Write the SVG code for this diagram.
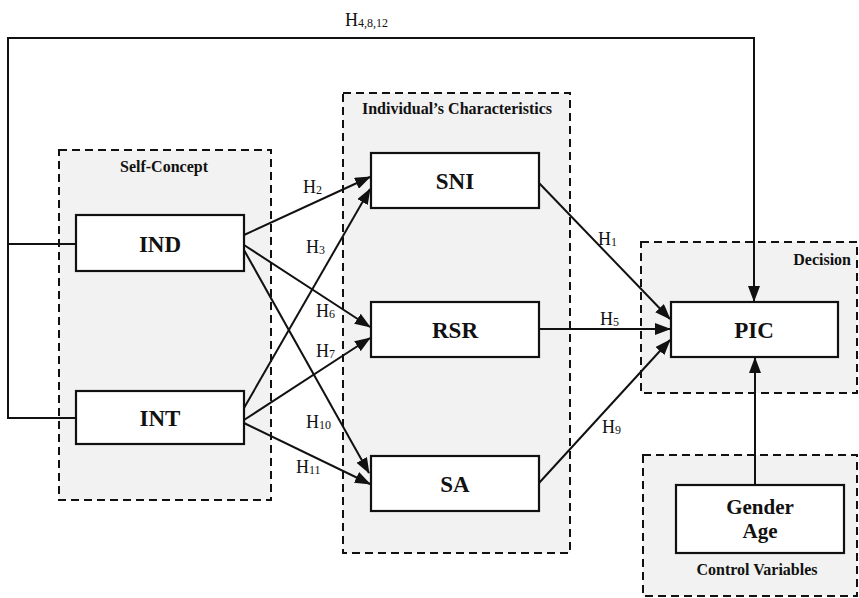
<svg xmlns="http://www.w3.org/2000/svg" width="859" height="598" viewBox="0 0 859 598">
<defs>
<marker id="ah" markerUnits="userSpaceOnUse" markerWidth="16" markerHeight="12" refX="15" refY="6" orient="auto">
<path d="M0,0 L16,6 L0,12 Z" fill="#111"/>
</marker>
</defs>
<style>
.grp{fill:#f2f2f2;stroke:#111;stroke-width:2;stroke-dasharray:8,5}
.node{fill:#fff;stroke:#111;stroke-width:2.2}
.lbl{font-family:"Liberation Serif","Times New Roman",serif;font-weight:bold;font-size:23px;fill:#111;text-anchor:middle}
.lbl2{font-family:"Liberation Serif","Times New Roman",serif;font-weight:bold;font-size:21px;fill:#111;text-anchor:middle}
.gt{font-family:"Liberation Serif","Times New Roman",serif;font-weight:bold;font-size:16px;fill:#111}
.h{font-family:"Liberation Serif","Times New Roman",serif;font-size:18px;fill:#111}
.sub{font-size:12px}
.ln{fill:none;stroke:#111;stroke-width:2}
.arr{fill:none;stroke:#111;stroke-width:2;marker-end:url(#ah)}
</style>
<rect width="859" height="598" fill="#fff"/>
<g id="self-concept">
<rect class="grp" x="59" y="150" width="212" height="350"/>
<text class="gt" x="164" y="172" text-anchor="middle">Self-Concept</text>
</g>
<g id="individuals-characteristics">
<rect class="grp" x="343" y="93" width="227" height="460"/>
<text class="gt" x="457" y="114" text-anchor="middle">Individual’s Characteristics</text>
</g>
<g id="decision">
<rect class="grp" x="641" y="242" width="216" height="151"/>
<text class="gt" x="851" y="265" text-anchor="end">Decision</text>
</g>
<g id="control-variables">
<rect class="grp" x="643" y="455" width="214" height="141"/>
<text class="gt" x="757" y="575" text-anchor="middle">Control Variables</text>
</g>
<g id="connectors">
<polyline class="ln" points="76,244 8,244 8,418 76,418"/>
<polyline class="arr" points="8,244 8,38 754,38 754,301"/>
<line class="arr" x1="244" y1="235" x2="370" y2="177"/>
<line class="arr" x1="244" y1="245" x2="370" y2="327"/>
<line class="arr" x1="244" y1="250" x2="369" y2="473"/>
<line class="arr" x1="244" y1="408" x2="370" y2="189"/>
<line class="arr" x1="244" y1="420" x2="370" y2="338"/>
<line class="arr" x1="244" y1="423" x2="370" y2="484"/>
<line class="arr" x1="539" y1="183" x2="670" y2="319"/>
<line class="arr" x1="539" y1="329" x2="670" y2="329"/>
<line class="arr" x1="539" y1="483" x2="670" y2="340"/>
<line class="arr" x1="755" y1="485" x2="755" y2="358"/>
<text class="h" x="345" y="26">H<tspan class="sub" dy="1">4,8,12</tspan></text>
<text class="h" x="303" y="193">H<tspan class="sub" dy="1">2</tspan></text>
<text class="h" x="306" y="253">H<tspan class="sub" dy="1">3</tspan></text>
<text class="h" x="316" y="317">H<tspan class="sub" dy="1">6</tspan></text>
<text class="h" x="316" y="357">H<tspan class="sub" dy="1">7</tspan></text>
<text class="h" x="306" y="428">H<tspan class="sub" dy="1">10</tspan></text>
<text class="h" x="296" y="473">H<tspan class="sub" dy="1">11</tspan></text>
<text class="h" x="598" y="245">H<tspan class="sub" dy="1">1</tspan></text>
<text class="h" x="600" y="325">H<tspan class="sub" dy="1">5</tspan></text>
<text class="h" x="602" y="433">H<tspan class="sub" dy="1">9</tspan></text>
</g>
<g id="IND">
<rect class="node" x="76" y="215" width="168" height="56"/>
<text class="lbl" x="160" y="252">IND</text>
</g>
<g id="INT">
<rect class="node" x="76" y="391" width="168" height="53"/>
<text class="lbl" x="160" y="426">INT</text>
</g>
<g id="SNI">
<rect class="node" x="371" y="153" width="168" height="55"/>
<text class="lbl" x="455" y="189">SNI</text>
</g>
<g id="RSR">
<rect class="node" x="371" y="302" width="168" height="55"/>
<text class="lbl" x="455" y="338">RSR</text>
</g>
<g id="SA">
<rect class="node" x="371" y="456" width="168" height="55"/>
<text class="lbl" x="455" y="492">SA</text>
</g>
<g id="PIC">
<rect class="node" x="671" y="302" width="167" height="55"/>
<text class="lbl" x="754" y="338">PIC</text>
</g>
<g id="gender-age">
<rect class="node" x="676" y="485" width="168" height="68"/>
<text class="lbl2" x="760" y="514">Gender</text>
<text class="lbl2" x="760" y="538">Age</text>
</g>
</svg>
